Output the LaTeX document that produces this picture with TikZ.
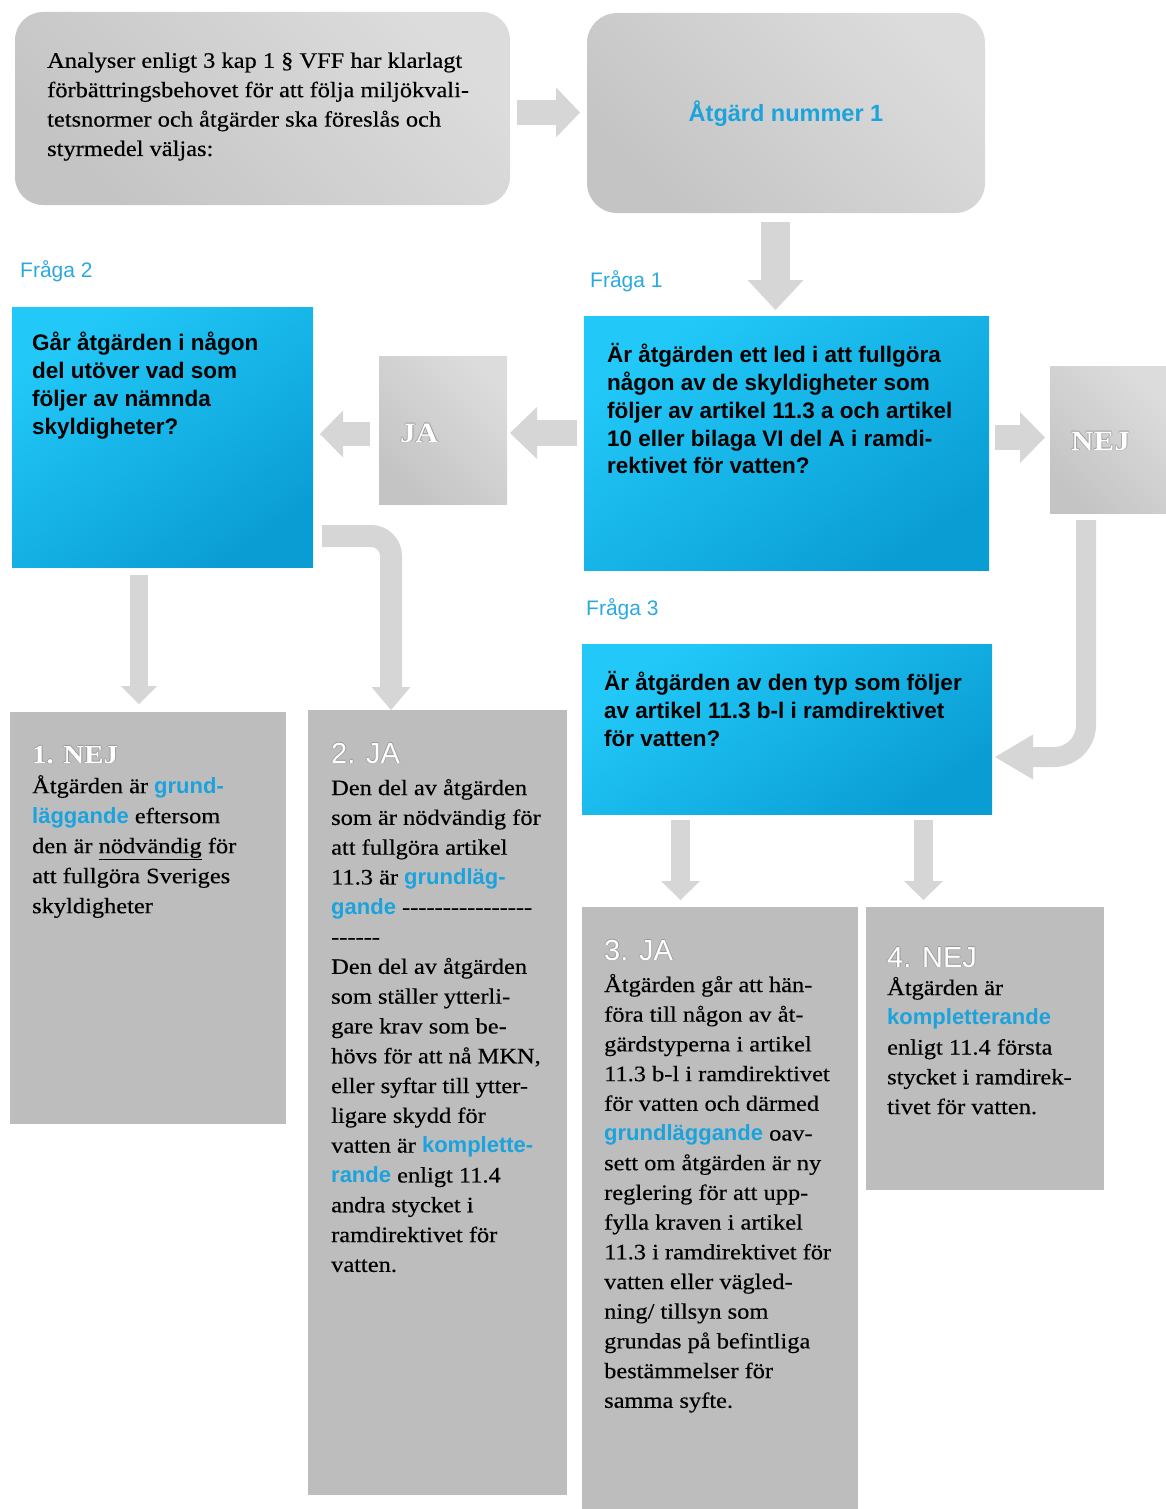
\documentclass[tikz,border=0pt]{standalone}
\usepackage{fontspec}
\setmainfont{Liberation Serif}[FakeStretch=1.11, UprightFeatures={FakeBold=0.35}]
\setsansfont{Liberation Sans}
\usetikzlibrary{arrows.meta,calc}
\definecolor{arrg}{HTML}{D6D6D6}
\definecolor{bluetxt}{HTML}{1AA3DD}
\definecolor{fragac}{HTML}{2AA9E1}
\definecolor{resgray}{HTML}{BDBDBD}
\definecolor{embs}{HTML}{9A9A9A}
\definecolor{blueA}{HTML}{22C9F8}
\definecolor{blueB}{HTML}{0A9DD4}
\definecolor{grayA}{HTML}{DCDCDC}
\definecolor{grayB}{HTML}{C4C4C4}
\newcommand\bw[1]{{\sffamily\bfseries\color{bluetxt}#1}}
\newcommand\hy{-\kern0pt\relax}
\newcommand\embtext[1]{\leavevmode\rlap{\kern-0.8pt\textcolor{embs}{#1}}\rlap{\kern0.8pt\textcolor{embs}{#1}}\rlap{\raisebox{0.8pt}{\textcolor{embs}{#1}}}\rlap{\raisebox{-0.8pt}{\textcolor{embs}{#1}}}\textcolor{white}{#1}}
\begin{document}
\begin{tikzpicture}[x=1pt,y=-1pt,
  box/.style={inner sep=0pt, outer sep=0pt, anchor=center},
  graybox/.style={box, top color=grayA, bottom color=grayB, shading angle=-45},
  bluebox/.style={box, top color=blueA, bottom color=blueB, shading angle=35},
  resbox/.style={box, fill=resgray},
  serif/.style={inner sep=0pt, anchor=north west, align=left, font=\fontsize{22}{#1}\selectfont},
  qtext/.style={inner sep=0pt, anchor=north west, align=left, font=\sffamily\bfseries\fontsize{22.5}{#1}\selectfont},
  fraga/.style={inner sep=0pt, anchor=base west, text=fragac, font=\sffamily\fontsize{21}{24}\selectfont},
  hdsans/.style={inner sep=0pt, anchor=base west, font=\sffamily\fontsize{29}{34}\selectfont},
  hdserif/.style={inner sep=0pt, anchor=base west, font=\bfseries\fontsize{#1}{30}\selectfont},
  blk/.style n args={3}{draw=arrg, line width=#1pt, line cap=butt, -{Triangle[width=#2pt, length=#3pt, line width=0pt]}}
]
\useasboundingbox (0,0) rectangle (1166,1509);

% boxes
\node[graybox, rounded corners=28pt, minimum width=495pt, minimum height=193pt] (tl) at (262.5,108.5) {};
\node[graybox, rounded corners=30pt, minimum width=398pt, minimum height=200pt] (tr) at (786,113) {};
\node[bluebox, minimum width=405pt, minimum height=254pt] (q1) at (786.5,443) {};
\node[graybox, minimum width=116pt, minimum height=147pt] (nej) at (1108,439.5) {};
\node[graybox, minimum width=128pt, minimum height=148pt] (ja) at (443,430) {};
\node[bluebox, minimum width=301pt, minimum height=260pt] (q2) at (162.5,437) {};
\node[resbox, minimum width=276pt, minimum height=412pt] (r1) at (148,918) {};
\node[resbox, minimum width=259pt, minimum height=785pt] (r2) at (437.5,1102.5) {};
\node[bluebox, minimum width=410pt, minimum height=170pt] (q3) at (787,729) {};
\node[resbox, minimum width=276pt, minimum height=602pt] (r3) at (720,1208) {};
\node[resbox, minimum width=238pt, minimum height=283pt] (r4) at (985,1048.5) {};

% connectors
\draw[blk={25}{50}{24}] ($(tl.east)+(7,4)$) -- ($(tr.west)+(-7,-0.5)$);
\draw[blk={29}{56}{30}] ($(tr.south)+(-10.5,9)$) -- ($(q1.north)+(-11,-6)$);
\draw[blk={25}{51}{25}] ($(q1.east)+(6,-5.5)$) -- ($(nej.west)+(-5,-2)$);
\draw[blk={26}{52}{27}] ($(q1.west)+(-7,-10)$) -- ($(ja.east)+(3,3)$);
\draw[blk={24}{47}{23}] ($(ja.west)+(-9,4)$) -- ($(q2.east)+(7,-3)$);
\draw[blk={18}{36}{18}] ($(q2.south)+(-23.5,8)$) -- ($(r1.north)+(-9,-8)$);
\draw[blk={22}{39}{23}, rounded corners=20pt] ($(q2.east)+(9,99)$) -| ($(r2.north)+(-46.5,0)$);
\draw[blk={20}{45}{38}, rounded corners=32pt] ($(nej.south)+(-22,7)$) |- ($(q3.east)+(3,28)$);
\draw[blk={19}{39}{19}] ($(q3.south)+(-106.5,6)$) -- ($(r3.north)+(-39.5,-7)$);
\draw[blk={19}{39}{19}] ($(q3.south)+(136.5,6)$) -- ($(r4.north)+(-61.5,-7)$);

% texts
\node[serif=29.4] (ttl) at (47,47) {\strut Analyser enligt 3 kap 1 § VFF har klarlagt\\ förbättringsbehovet för att följa miljökvali-\\ tetsnormer och åtgärder ska föreslås och\\ styrmedel väljas:};
\node[inner sep=0pt, anchor=base, text=bluetxt, font=\sffamily\bfseries\fontsize{23.5}{28}\selectfont] (ttr) at (786,122) {Åtgärd nummer 1};

\node[fraga] (f1) at (590,287) {Fråga 1};
\node[fraga] (f2) at (20,277) {Fråga 2};
\node[fraga] (f3) at (586,615) {Fråga 3};

\node[qtext=27.8] (tq1) at (607,343) {\strut Är åtgärden ett led i att fullgöra\\ någon av de skyldigheter som\\ följer av artikel 11.3 a och artikel\\ 10 eller bilaga VI del A i ramdi-\\ rektivet för vatten?};
\node[qtext=28] (tq2) at (32,331) {\strut Går åtgärden i någon\\ del utöver vad som\\ följer av nämnda\\ skyldigheter?};
\node[qtext=28] (tq3) at (604,671) {\strut Är åtgärden av den typ som följer\\ av artikel 11.3 b-l i ramdirektivet\\ för vatten?};

\node[hdserif=28] (tja) at (400,442) {\embtext{JA}};
\node[hdserif=28] (tnej) at (1071,450) {\embtext{NEJ}};

\node[hdserif=26] (h1) at (32,763) {\embtext{1. NEJ}};
\node[hdsans] (h2) at (331,763) {\embtext{2. JA}};
\node[hdsans] (h3) at (604,960) {\embtext{3. JA}};
\node[hdsans] (h4) at (887,967) {\embtext{4. NEJ}};

\node[serif=30] (t1) at (32,772) {\strut Åtgärden är \bw{grund-}\\ \bw{läggande} eftersom\\ den är \underline{nödvändig} för\\ att fullgöra Sveriges\\ skyldigheter};
\node[serif=29.8] (t2) at (331,774) {\strut Den del av åtgärden\\ som är nödvändig för\\ att fullgöra artikel\\ 11.3 är \bw{grundläg-}\\ \bw{gande} \hy\hy\hy\hy\hy\hy\hy\hy\hy\hy\hy\hy\hy\hy\hy\hy\\ \hy\hy\hy\hy\hy\hy\\ Den del av åtgärden\\ som ställer ytterli-\\ gare krav som be-\\ hövs för att nå MKN,\\ eller syftar till ytter-\\ ligare skydd för\\ vatten är \bw{komplette-}\\ \bw{rande} enligt 11.4\\ andra stycket i\\ ramdirektivet för\\ vatten.};
\node[serif=29.7] (t3) at (604,971) {\strut Åtgärden går att hän-\\ föra till någon av åt-\\ gärdstyperna i artikel\\ 11.3 b-l i ramdirektivet\\ för vatten och därmed\\ \bw{grundläggande} oav-\\ sett om åtgärden är ny\\ reglering för att upp-\\ fylla kraven i artikel\\ 11.3 i ramdirektivet för\\ vatten eller vägled-\\ ning/ tillsyn som\\ grundas på befintliga\\ bestämmelser för\\ samma syfte.};
\node[serif=29.75] (t4) at (887,974) {\strut Åtgärden är\\ \bw{kompletterande}\\ enligt 11.4 första\\ stycket i ramdirek-\\ tivet för vatten.};
\end{tikzpicture}
\end{document}
